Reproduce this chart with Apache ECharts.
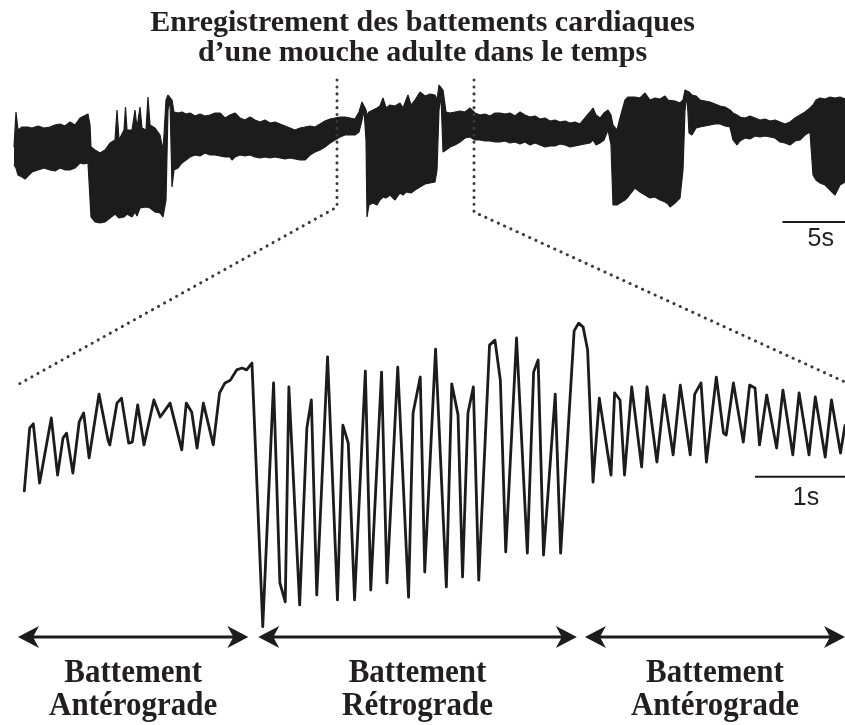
<!DOCTYPE html>
<html><head><meta charset="utf-8">
<script src="https://cdn.jsdelivr.net/npm/echarts@6/dist/echarts.min.js"></script>
<style>html,body{margin:0;padding:0;background:#fff}#c{width:845px;height:725px}</style>
</head><body><div id="c"></div>
<script>
// ---- Overview trace (top): envelope of the dense beat trace, time in s, signal in arbitrary units
const topTime = [
 1.12,1.28,1.44,1.76,2.00,2.24,2.56,3.04,3.52,4.00,
 4.40,4.80,5.20,5.60,6.00,6.40,6.72,7.04,7.20,7.28,
 7.60,8.00,8.40,8.80,9.20,9.36,9.52,9.92,10.04,10.16,
 10.56,10.80,10.96,11.20,11.36,11.68,11.84,12.00,12.40,12.80,
 13.04,13.12,13.28,13.44,13.60,13.76,13.92,14.24,14.56,14.88,
 15.20,15.60,16.00,16.40,16.80,17.20,17.60,18.00,18.40,18.56,
 18.80,19.20,19.60,20.00,20.40,20.80,21.20,21.60,22.00,22.40,
 22.80,23.20,23.60,24.00,24.40,24.80,25.20,25.60,26.00,26.40,
 26.80,27.20,27.60,28.00,28.40,28.72,28.96,29.12,29.28,29.36,
 29.52,29.84,30.16,30.40,30.64,30.88,31.20,31.60,32.00,32.24,
 32.48,32.64,32.88,33.20,33.60,34.00,34.40,34.80,34.96,35.12,
 35.28,35.44,35.68,36.00,36.40,36.80,37.20,37.60,38.00,38.40,
 38.80,39.20,39.60,40.00,40.40,40.80,41.20,41.60,42.00,42.40,
 42.80,43.20,43.60,44.00,44.40,44.80,45.20,45.60,46.00,46.40,
 46.80,47.20,47.44,47.68,48.00,48.32,48.64,48.88,49.04,49.36,
 49.60,50.00,50.24,50.40,50.80,51.20,51.60,52.00,52.40,52.80,
 53.20,53.44,53.60,54.00,54.40,54.64,54.80,54.96,55.12,55.36,
 55.68,56.00,56.40,56.80,57.20,57.60,58.00,58.40,58.64,58.96,
 59.20,59.60,60.00,60.40,60.80,61.20,61.60,62.00,62.40,62.80,
 63.20,63.60,64.00,64.40,64.80,65.04,65.28,65.60,66.00,66.40,
 66.80,67.20,67.60
];
const topUpper = [
 83,118,100,103,103,103,102,104,102,103,
 105,106,104,108,105,112,114,116,105,83,
 80,77,80,87,90,120,90,100,123,100,
 100,120,102,123,102,100,133,105,102,95,
 80,95,130,135,135,130,118,117,118,116,
 117,114,116,114,115,117,117,112,115,113,
 117,112,110,113,110,108,110,107,108,106,
 104,102,100,102,103,104,103,106,109,111,
 112,113,113,112,111,118,128,127,120,115,
 118,120,122,124,132,122,125,124,127,122,
 130,135,125,130,138,134,136,135,130,145,
 147,140,118,117,118,119,118,122,117,115,
 116,114,117,117,116,117,114,118,115,113,
 114,111,112,109,110,108,109,107,108,106,
 112,118,122,115,112,117,120,115,105,100,
 112,130,133,135,133,132,137,130,132,131,
 134,130,128,129,127,130,140,142,138,135,
 134,130,129,128,126,124,123,120,117,115,
 113,112,114,112,110,111,109,110,108,106,
 108,112,115,118,122,125,130,132,131,133,
 132,133,131
];
const topLower = [
 65,62,55,53,51,54,58,60,62,60,
 59,62,60,60,62,67,66,67,65,13,
 8,7,8,12,16,14,12,13,15,16,
 13,18,14,22,20,23,24,22,18,17,
 13,14,30,120,130,43,60,62,67,70,
 73,75,74,77,75,75,74,73,73,70,
 73,75,74,75,73,72,73,72,73,72,
 71,72,71,70,70,75,78,80,83,87,
 90,93,95,95,95,98,110,120,90,13,
 25,27,25,30,33,32,35,30,37,35,
 38,40,37,40,43,46,47,48,60,120,
 135,78,80,83,85,88,92,93,90,90,
 89,89,88,88,89,87,88,86,88,85,
 87,85,83,84,84,86,85,83,84,85,
 86,87,90,85,87,90,100,85,25,25,
 27,30,33,35,42,38,35,32,33,30,
 28,26,23,27,32,60,120,135,97,95,
 102,103,104,105,106,106,104,103,90,85,
 89,92,91,94,93,94,93,92,88,87,
 85,89,90,95,98,55,50,47,45,40,
 35,45,48
];

// ---- Zoomed trace (bottom): time in s, signal in arbitrary units
const bottomTime = [
 0.27,0.33,0.37,0.44,0.57,0.64,0.70,0.74,0.81,0.88,
 0.93,0.99,1.10,1.20,1.22,1.30,1.35,1.43,1.47,1.53,
 1.60,1.71,1.78,1.89,2.02,2.07,2.13,2.19,2.26,2.37,
 2.44,2.50,2.56,2.63,2.69,2.74,2.80,2.92,3.04,3.11,
 3.17,3.21,3.33,3.41,3.46,3.52,3.64,3.75,3.81,3.87,
 3.94,4.06,4.12,4.24,4.30,4.42,4.54,4.59,4.67,4.72,
 4.84,4.96,5.02,5.09,5.14,5.20,5.26,5.32,5.44,5.50,
 5.56,5.62,5.74,5.86,5.93,5.98,6.04,6.17,6.23,6.38,
 6.43,6.48,6.53,6.59,6.66,6.79,6.83,6.89,6.94,7.02,
 7.13,7.19,7.30,7.38,7.48,7.56,7.67,7.72,7.79,7.85,
 7.96,8.04,8.07,8.15,8.26,8.33,8.39,8.44,8.52,8.63,
 8.70,8.81,8.88,8.99,9.06,9.17,9.24,9.34,9.39
];
const bottomValue = [
 44.9,65.2,66.5,47.4,68.4,50.0,61.9,63.5,50.6,67.1,
 70.0,55.5,76.1,61.3,59.7,73.2,74.8,60.3,60.6,72.6,
 59.7,74.2,68.7,73.2,58.1,73.2,70.3,58.7,73.2,59.7,
 76.5,79.7,80.6,83.9,84.5,83.9,86.1,1.1,79.7,15.2,
 9.1,78.4,8.1,65.2,74.2,11.3,88.1,9.7,66.1,60.3,
 9.7,83.5,12.9,83.2,15.2,84.8,10.6,70.0,81.6,18.7,
 90.6,13.9,79.4,69.4,17.1,70.0,78.4,16.1,91.9,93.5,
 80.6,25.2,94.2,24.8,83.2,87.1,24.2,76.1,24.8,96.5,
 99.0,97.7,90.3,47.7,74.8,50.0,76.5,74.2,50.0,78.4,
 52.6,78.4,54.2,75.8,56.5,79.0,56.5,76.1,79.7,54.2,
 81.6,63.5,62.9,79.7,60.6,79.0,78.1,59.7,75.8,58.7,
 77.4,56.5,76.5,56.5,75.2,55.8,74.2,57.1,66.0
];

// ---- Axis ranges, zoom window, phases, labels
const topRange = [0, 67.6];
const bottomRange = [0, 9.39];
const topYRange = [0, 150];
const bottomYRange = [0, 100];
const zoomWindow = [26.96, 37.92];          // part of the overview that is enlarged (s)
const linkTopEnd = [23, 18];                // overview level where dotted verticals stop
const linkBottomEnd = [[0.17, 78.7], [9.39, 80]]; // zoom-trace points reached by dotted lines
const phaseSpans = [[0.2, 2.76], [2.87, 6.41], [6.5, 9.39]];
const phaseLine1 = ['Battement', 'Battement', 'Battement'];
const phaseLine2 = ['Antérograde', 'Rétrograde', 'Antérograde'];
const scaleTop = {len: 5, level: 8, label: '5s'};
const scaleBottom = {len: 1, level: 49.4, label: '1s'};
const titleLines = ['Enregistrement des battements cardiaques', 'd’une mouche adulte dans le temps'];

const INK = '#1c1c1c';
const TXT = '#231f20';
const SERIF = '"Liberation Serif", "DejaVu Serif", serif';
const SANS = '"Liberation Sans", Arial, sans-serif';

const chart = echarts.init(document.getElementById('c'), null, {renderer: 'canvas'});
const option = {
  animation: false,
  backgroundColor: '#ffffff',
  title: [
    {text: titleLines[0], left: 'center', top: 3,
     textStyle: {fontFamily: SERIF, fontWeight: 'bold', fontSize: 30, color: TXT}},
    {text: titleLines[1], left: 'center', top: 33,
     textStyle: {fontFamily: SERIF, fontWeight: 'bold', fontSize: 30, color: TXT}}
  ],
  grid: [
    {left: 0, right: 0, top: 80, height: 150},
    {left: 0, right: 0, top: 320, height: 310}
  ],
  xAxis: [
    {type: 'value', gridIndex: 0, min: topRange[0], max: topRange[1], show: false},
    {type: 'value', gridIndex: 1, min: bottomRange[0], max: bottomRange[1], show: false}
  ],
  yAxis: [
    {type: 'value', gridIndex: 0, min: topYRange[0], max: topYRange[1], show: false},
    {type: 'value', gridIndex: 1, min: bottomYRange[0], max: bottomYRange[1], show: false}
  ],
  series: [
    // upper envelope: ink filled down to the axis floor
    {type: 'line', xAxisIndex: 0, yAxisIndex: 0, symbol: 'none', silent: true, z: 2,
     data: topTime.map((t, i) => [t, topUpper[i]]),
     lineStyle: {color: INK, width: 1.2}, areaStyle: {color: INK, opacity: 1, origin: 'start'}},
    // lower envelope: paper filled down to the floor, leaving only the band in ink
    {type: 'line', xAxisIndex: 0, yAxisIndex: 0, symbol: 'none', silent: true, z: 3,
     data: topTime.map((t, i) => [t, topLower[i]]),
     lineStyle: {color: INK, width: 1.2}, areaStyle: {color: '#ffffff', opacity: 1, origin: 'start'}},
    {type: 'line', xAxisIndex: 1, yAxisIndex: 1, symbol: 'none', silent: true, z: 3,
     data: bottomTime.map((t, i) => [t, bottomValue[i]]),
     lineStyle: {color: INK, width: 2.8, join: 'round', cap: 'round'}}
  ]
};
chart.setOption(option);

const P = (g, t, v) => chart.convertToPixel({gridIndex: g}, [t, v]);
const graphics = [];
// dotted zoom connectors
[0, 1].forEach(k => {
  const a = P(0, zoomWindow[k], topYRange[1]);
  const b = P(0, zoomWindow[k], linkTopEnd[k]);
  const c = P(1, linkBottomEnd[k][0], linkBottomEnd[k][1]);
  graphics.push({type: 'polyline', z: 10, shape: {points: [a, b, c]},
    style: {stroke: '#3a3a3a', lineWidth: 3, lineDash: [0.1, 6.8], lineCap: 'round', fill: null}});
});
// scale bars
function scaleBar(g, sb, range, dx, dy, fs) {
  const a = P(g, range[1] - sb.len, sb.level);
  const b = P(g, range[1], sb.level);
  graphics.push({type: 'line', z: 10, shape: {x1: a[0], y1: a[1], x2: b[0], y2: b[1]},
    style: {stroke: INK, lineWidth: 2}});
  graphics.push({type: 'text', z: 10, style: {text: sb.label, x: (a[0] + b[0]) / 2 + dx, y: a[1] + dy,
    align: 'center', textAlign: 'center', verticalAlign: 'middle', textVerticalAlign: 'middle',
    font: fs + 'px ' + SANS, fill: TXT}});
}
scaleBar(0, scaleTop, topRange, 7, 17, 25);
scaleBar(1, scaleBottom, bottomRange, 6, 21, 25);
// phase arrows + labels
const arrowY = 637;
function label(text, cx, cy) {
  graphics.push({type: 'text', x: cx, y: cy, scaleX: 1, scaleY: 1.1,
    style: {text: text, x: 0, y: 0, align: 'center', textAlign: 'center',
      verticalAlign: 'middle', textVerticalAlign: 'middle', font: 'bold 31px ' + SERIF, fill: TXT}});
}
phaseSpans.forEach((s, i) => {
  const x1 = P(1, s[0], 0)[0], x2 = P(1, s[1], 0)[0];
  graphics.push({type: 'line', shape: {x1: x1 + 10, y1: arrowY, x2: x2 - 10, y2: arrowY},
    style: {stroke: INK, lineWidth: 3}});
  graphics.push({type: 'polygon', shape: {points: [[x2, arrowY], [x2 - 21, arrowY - 11], [x2 - 15, arrowY], [x2 - 21, arrowY + 11]]},
    style: {fill: INK}});
  graphics.push({type: 'polygon', shape: {points: [[x1, arrowY], [x1 + 21, arrowY - 11], [x1 + 15, arrowY], [x1 + 21, arrowY + 11]]},
    style: {fill: INK}});
  const cx = (x1 + x2) / 2;
  label(phaseLine1[i], cx, 673);
  label(phaseLine2[i], cx, 706);
});
chart.setOption({graphic: {elements: graphics}});
</script>
</body></html>
